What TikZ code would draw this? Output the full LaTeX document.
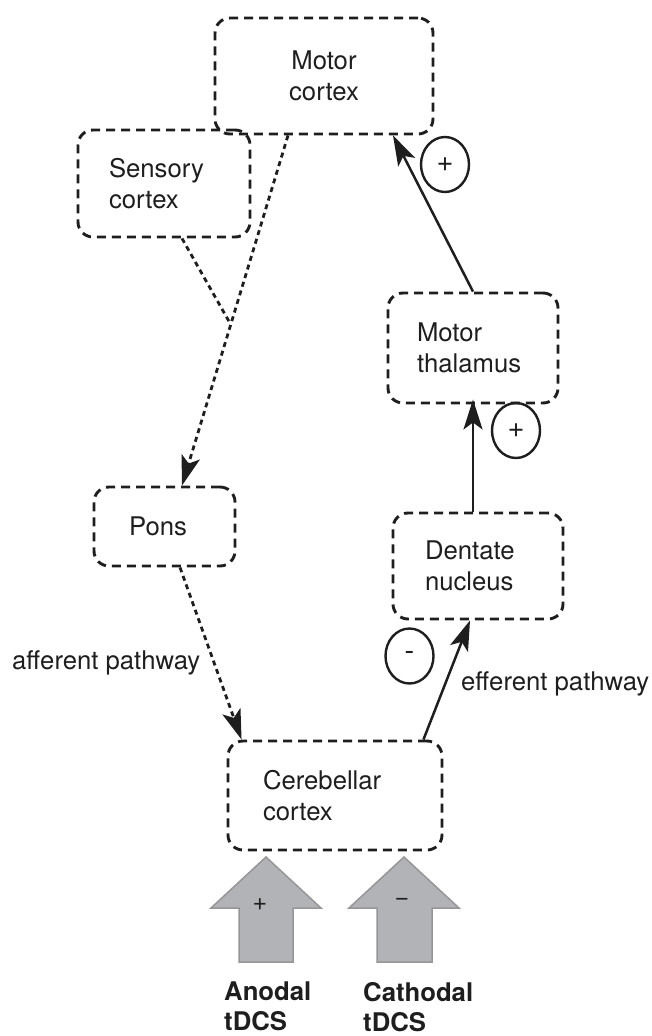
\documentclass[tikz,border=0pt]{standalone}
\usepackage{fontspec}
\setmainfont{TeX Gyre Heros}
\usetikzlibrary{arrows.meta,calc,shapes.geometric}
\definecolor{ink}{RGB}{30,30,30}
\definecolor{arrfill}{RGB}{178,179,182}
\definecolor{arrline}{RGB}{150,150,152}
\tikzset{
  box/.style={draw=ink, line width=2.9pt, dash pattern=on 9pt off 6pt, rounded corners=15pt,
     inner sep=0pt, font=\fontsize{25.7}{31.5}\selectfont, text=ink, align=left},
  dotline/.style={draw=ink, line width=2.8pt, dash pattern=on 5pt off 4pt,
     -{Stealth[length=30pt,width=19pt,inset=7pt]}},
  dotplain/.style={draw=ink, line width=2.8pt, dash pattern=on 5pt off 4pt},
  solidarrow/.style={draw=ink, line width=2.5pt, -{Stealth[length=30pt,width=19pt,inset=7pt]}},
  sign/.style={draw=ink, line width=2.4pt, ellipse, minimum width=48pt, minimum height=55pt,
     inner sep=0pt, font=\fontsize{29}{29}\selectfont, text=ink},
  lbl/.style={font=\fontsize{25.7}{31.5}\selectfont, text=ink, inner sep=0pt},
  blk/.style={fill=arrfill, draw=arrline, line width=1.5pt, line join=miter},
  blklbl/.style={font=\fontsize{25}{25}\selectfont, text=ink, inner sep=0pt},
  bold/.style={font=\fontsize{25.7}{30}\selectfont\bfseries, text=ink, align=left, inner sep=0pt, anchor=north west}
}
\begin{document}
\begin{tikzpicture}[x=1pt,y=-1pt]
\useasboundingbox (0,0) rectangle (652,1036);

% boxes
\node[box, minimum width=218pt, minimum height=116pt, align=center] (mc) at (324,76) {Motor\\cortex};
\node[box, minimum width=172pt, minimum height=107pt, text width=110pt] (sc) at (164,183.5) {Sensory\\cortex};
\node[box, minimum width=141pt, minimum height=79pt, text width=71pt] (pons) at (164.5,526.5) {Pons};
\node[box, minimum width=170pt, minimum height=110pt, text width=112pt] (th) at (473,348) {Motor\\thalamus};
\node[box, minimum width=170pt, minimum height=106pt, text width=106pt] (dn) at (478,566) {Dentate\\nucleus};
\node[box, minimum width=214pt, minimum height=109pt, text width=144pt] (cb) at (335,795.5) {Cerebellar\\cortex};

% afferent side
\coordinate (mcout) at ([xshift=-36pt]mc.south);
\coordinate (ponsin) at ([xshift=17.5pt]pons.north);
\coordinate (join) at ($(mcout)!0.54!(ponsin)$);
\draw[dotline] (mcout) -- (ponsin);
\draw[dotplain] ([xshift=18pt]sc.south) -- (join);
\draw[dotline] ([xshift=15.5pt]pons.south) -- ([xshift=15pt]cb.north west);

% efferent side
\draw[solidarrow] ([xshift=-20pt]cb.north east) -- ([xshift=-8pt]dn.south);
\draw[solidarrow] ([xshift=-5pt]dn.north) -- ([yshift=5pt]th.south);
\draw[solidarrow] (th.north) -- ([xshift=69pt]mc.south);

% signs
\node[sign] (s1) at (445,164.5) {+};
\node[sign] (s2) at (516,430.5) {+};
\node[sign] (s3) at (409.5,656) {-};

% labels
\node[lbl, anchor=west] (aff) at (12,663) {afferent pathway};
\node[lbl, anchor=west] (eff) at (461,684) {efferent pathway};

% tDCS block arrows
\draw[blk] (266,857) -- (321,908) -- (293,908) -- (293,962) -- (239,962) -- (239,908) -- (211,908) -- cycle;
\draw[blk] (404,857) -- (459,908) -- (432,908) -- (432,962) -- (377,962) -- (377,908) -- (349,908) -- cycle;
\node[blklbl] (plus) at (260,905) {+};
\node[blklbl] (minus) at (402,902) {−};

\node[bold] (anodal) at (224,982) {Anodal\\tDCS};
\node[bold] (cathodal) at (363,982) {Cathodal\\tDCS};
\end{tikzpicture}
\end{document}
